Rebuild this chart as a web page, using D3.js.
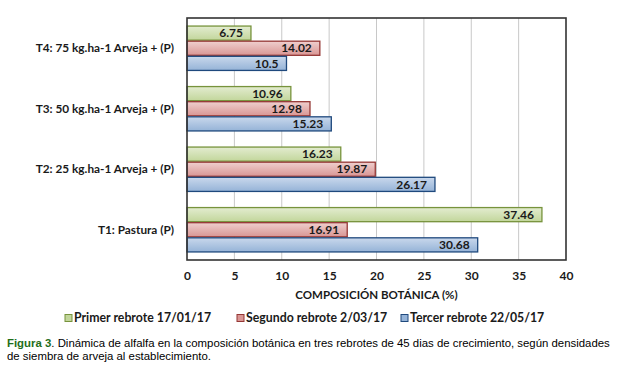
<!DOCTYPE html>
<html>
<head>
<meta charset="utf-8">
<script src="https://cdn.jsdelivr.net/npm/d3@7"></script>
<style>
  body { margin: 0; background: #fff; }
  svg { display: block; }
</style>
</head>
<body>
<div id="chart"></div>
<script>
const categories = ["T4: 75 kg.ha-1 Arveja + (P)", "T3: 50 kg.ha-1 Arveja + (P)", "T2: 25 kg.ha-1 Arveja + (P)", "T1: Pastura (P)"];
const seriesNames = ["Primer rebrote 17/01/17", "Segundo rebrote 2/03/17", "Tercer rebrote 22/05/17"];
const primer = [6.75, 10.96, 16.23, 37.46];
const segundo = [14.02, 12.98, 19.87, 16.91];
const tercer = [10.5, 15.23, 26.17, 30.68];
const xTicks = [0, 5, 10, 15, 20, 25, 30, 35, 40];

const seriesValues = [primer, segundo, tercer];
// fill top, fill bottom, border
const colors = [
    { top: "#e3ecd0", bottom: "#c2d69b", stroke: "#77933c" },
    { top: "#efcfce", bottom: "#d99694", stroke: "#953735" },
    { top: "#c9d8ec", bottom: "#95b3d7", stroke: "#1f497d" }
];

const width = 618, height = 382;
const plot = { left: 187, right: 566, top: 18, bottom: 260 };
const font = "Lato, 'Open Sans', sans-serif";

const svg = d3.select("#chart").append("svg")
    .attr("width", width)
    .attr("height", height)
    .style("font-family", font);

const defs = svg.append("defs");
colors.forEach((c, i) => {
    const g = defs.append("linearGradient")
        .attr("id", "grad" + i)
        .attr("x1", 0).attr("y1", 0).attr("x2", 0).attr("y2", 1);
    g.append("stop").attr("offset", "0%").attr("stop-color", c.top);
    g.append("stop").attr("offset", "100%").attr("stop-color", c.bottom);
});

const x = d3.scaleLinear().domain([0, 40]).range([plot.left, plot.right]);
const y = d3.scaleBand().domain(categories).range([plot.top, plot.bottom])
    .paddingInner(0.25).paddingOuter(0.125);
const ySub = d3.scaleBand().domain(d3.range(seriesNames.length)).range([0, y.bandwidth()]);

// Gridlines
svg.append("g")
    .selectAll("line")
    .data(xTicks.slice(1, -1))
    .enter().append("line")
    .attr("x1", d => x(d)).attr("x2", d => x(d))
    .attr("y1", plot.top).attr("y2", plot.bottom)
    .attr("stroke", "#c8c8c8")
    .attr("stroke-width", 1);

// Bars
const groups = svg.selectAll(".cat")
    .data(categories)
    .enter().append("g")
    .attr("class", "cat")
    .attr("transform", d => `translate(0,${y(d)})`);

groups.each(function (cat, ci) {
    const g = d3.select(this);
    seriesValues.forEach((vals, si) => {
        const v = vals[ci];
        g.append("rect")
            .attr("x", x(0))
            .attr("y", ySub(si) + 0.5)
            .attr("width", x(v) - x(0))
            .attr("height", ySub.bandwidth() - 1)
            .attr("fill", `url(#grad${si})`)
            .attr("stroke", colors[si].stroke)
            .attr("stroke-width", 1.3);
        g.append("text")
            .attr("x", x(v) - 8)
            .attr("y", ySub(si) + ySub.bandwidth() / 2)
            .attr("dy", "0.35em")
            .attr("text-anchor", "end")
            .style("font-size", "12px")
            .style("font-weight", "bold")
            .attr("fill", "#1a1a1a")
            .text(v);
    });
});

// Plot frame
svg.append("rect")
    .attr("x", plot.left).attr("y", plot.top)
    .attr("width", plot.right - plot.left)
    .attr("height", plot.bottom - plot.top)
    .attr("fill", "none")
    .attr("stroke", "#333")
    .attr("stroke-width", 1.6);

// Category labels
svg.append("g")
    .selectAll("text")
    .data(categories)
    .enter().append("text")
    .attr("x", 174)
    .attr("y", d => y(d) + y.bandwidth() / 2)
    .attr("dy", "0.35em")
    .attr("text-anchor", "end")
    .style("font-size", "11.8px")
    .style("font-weight", "bold")
    .attr("fill", "#1a1a1a")
    .text(d => d);

// X axis tick labels
const xAxis = svg.append("g")
    .attr("transform", `translate(0,${plot.bottom})`)
    .call(d3.axisBottom(x).tickValues(xTicks).tickSize(0).tickPadding(11));
xAxis.select(".domain").remove();
xAxis.selectAll("text")
    .style("font-family", font)
    .style("font-size", "12px")
    .style("font-weight", "bold")
    .attr("fill", "#1a1a1a");

// Axis title
svg.append("text")
    .attr("x", (plot.left + plot.right) / 2)
    .attr("y", 295)
    .attr("dy", "0.35em")
    .attr("text-anchor", "middle")
    .style("font-size", "11.5px")
    .style("font-weight", "bold")
    .attr("fill", "#1a1a1a")
    .text("COMPOSICIÓN BOTÁNICA (%)");

// Legend
const legendX = [65, 237, 401];
const legend = svg.append("g")
    .selectAll("g")
    .data(seriesNames)
    .enter().append("g")
    .attr("transform", (d, i) => `translate(${legendX[i]},318)`);
legend.append("rect")
    .attr("x", 0).attr("y", -3.5)
    .attr("width", 7).attr("height", 7)
    .attr("fill", (d, i) => colors[i].bottom)
    .attr("stroke", (d, i) => colors[i].stroke)
    .attr("stroke-width", 1);
legend.append("text")
    .attr("x", 9)
    .attr("dy", "0.35em")
    .style("font-size", "12.3px")
    .style("font-weight", "bold")
    .attr("fill", "#1a1a1a")
    .text(d => d);

// Caption
const caption = svg.append("text")
    .attr("x", 7)
    .attr("y", 347)
    .style("font-family", "'Liberation Sans', Arial, sans-serif")
    .style("font-size", "11.4px")
    .attr("fill", "#000");
caption.append("tspan")
    .style("font-weight", "bold")
    .attr("fill", "#1f6e1a")
    .text("Figura 3");
caption.append("tspan")
    .text(". Dinámica de alfalfa en la composición botánica en tres rebrotes de 45 dias de crecimiento, según densidades");
svg.append("text")
    .attr("x", 7)
    .attr("y", 360)
    .style("font-family", "'Liberation Sans', Arial, sans-serif")
    .style("font-size", "11.4px")
    .attr("fill", "#000")
    .text("de siembra de arveja al establecimiento.");
</script>
</body>
</html>
